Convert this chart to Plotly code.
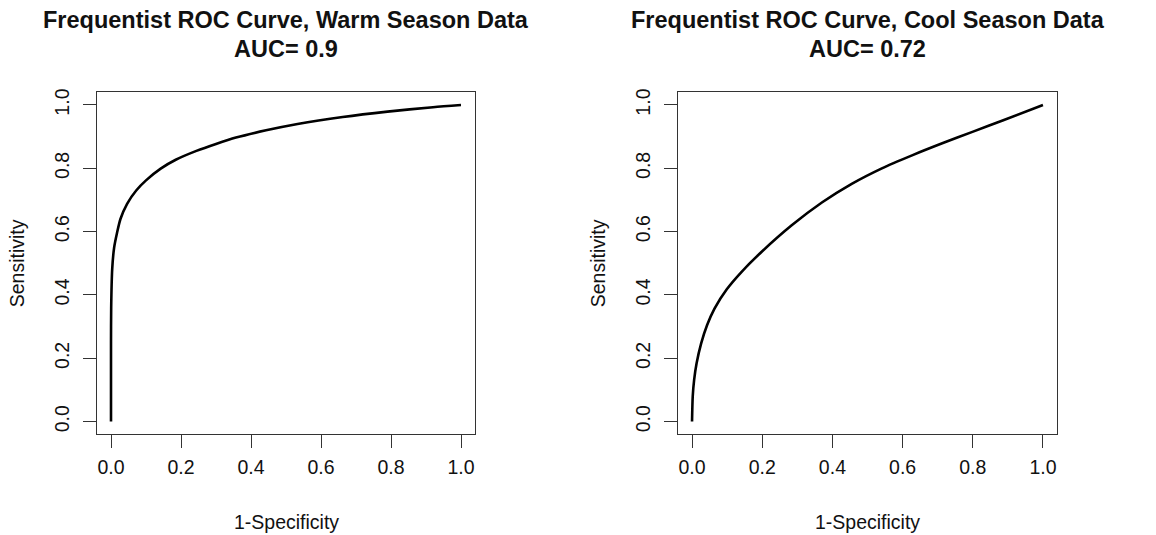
import plotly.graph_objects as go

# ---- data ----
warm_fpr = [0, 0, 0.0005, 0.0035, 0.009, 0.017, 0.027, 0.046, 0.072, 0.1, 0.142,
            0.185, 0.244, 0.3, 0.357, 0.443, 0.533, 0.662, 0.79, 0.92, 1.0]
warm_sens = [0, 0.25, 0.36, 0.483, 0.55, 0.595, 0.640, 0.688, 0.730, 0.762, 0.799,
             0.827, 0.855, 0.877, 0.897, 0.920, 0.940, 0.962, 0.979, 0.993, 1.0]

cool_fpr = [0, 0.002, 0.006, 0.013, 0.026, 0.043, 0.064, 0.099, 0.142, 0.2, 0.284,
            0.370, 0.455, 0.541, 0.627, 0.713, 0.799, 0.885, 1.0]
cool_sens = [0, 0.08, 0.132, 0.184, 0.247, 0.305, 0.357, 0.418, 0.474, 0.538, 0.620,
             0.692, 0.751, 0.800, 0.841, 0.879, 0.915, 0.951, 1.0]

tick_vals = [0, 0.2, 0.4, 0.6, 0.8, 1.0]
tick_text = ["0.0", "0.2", "0.4", "0.6", "0.8", "1.0"]

titles = [("Frequentist ROC Curve, Warm Season Data", "AUC= 0.9"),
          ("Frequentist ROC Curve, Cool Season Data", "AUC= 0.72")]
x_label = "1-Specificity"
y_label = "Sensitivity"

# ---- layout geometry (pixels) ----
W, H = 1156, 535
box_top, box_bot = 89.0, 433.5
panels = [(97.0, 475.0), (678.0, 1057.0)]

FONT = "Liberation Sans, Arial, Helvetica, sans-serif"
TXT = "#111111"
AX = "#333333"
BASE = 19.5
MAIN = 23.5

fig = go.Figure()
fig.add_trace(go.Scatter(x=warm_fpr, y=warm_sens, mode="lines",
                         line=dict(color="black", width=2.6, shape="spline", smoothing=0.7),
                         xaxis="x", yaxis="y", showlegend=False, hoverinfo="skip"))
fig.add_trace(go.Scatter(x=cool_fpr, y=cool_sens, mode="lines",
                         line=dict(color="black", width=2.6, shape="spline", smoothing=0.7),
                         xaxis="x2", yaxis="y2", showlegend=False, hoverinfo="skip"))

ydom = [(H - box_bot) / H, (H - box_top) / H]

def xax(dom, anchor):
    return dict(domain=dom, anchor=anchor, range=[-0.04, 1.04], tickmode="array",
                tickvals=tick_vals, ticktext=tick_text, ticks="outside", ticklen=13,
                tickwidth=1.1, tickcolor=AX, showline=True, linecolor=AX, linewidth=1.1,
                mirror=True, showgrid=False, zeroline=False, fixedrange=True,
                tickfont=dict(family=FONT, size=BASE, color=TXT),
                ticklabelstandoff=2)

def yax(anchor):
    return dict(domain=ydom, anchor=anchor, range=[-0.04, 1.04], tickmode="array",
                tickvals=tick_vals, ticktext=tick_text, ticks="outside", ticklen=13,
                tickwidth=1.1, tickcolor=AX, showline=True, linecolor=AX, linewidth=1.1,
                mirror=True, showgrid=False, zeroline=False, fixedrange=True,
                tickangle=-90,
                tickfont=dict(family=FONT, size=BASE, color=TXT),
                ticklabelstandoff=6)

annotations = []
for i, (l, r) in enumerate(panels):
    cx = (l + r) / 2 / W
    annotations.append(dict(text=f"<b>{titles[i][0]}</b>", x=cx, y=(H - 16) / H,
                            xref="paper", yref="paper", showarrow=False,
                            xanchor="center", yanchor="middle",
                            font=dict(family=FONT, size=MAIN, color=TXT)))
    annotations.append(dict(text=f"<b>{titles[i][1]}</b>", x=cx, y=(H - 45) / H,
                            xref="paper", yref="paper", showarrow=False,
                            xanchor="center", yanchor="middle",
                            font=dict(family=FONT, size=MAIN, color=TXT)))
    annotations.append(dict(text=x_label, x=cx, y=(H - 522) / H,
                            xref="paper", yref="paper", showarrow=False,
                            xanchor="center", yanchor="middle",
                            font=dict(family=FONT, size=BASE, color=TXT)))
    annotations.append(dict(text=y_label, x=(l - 80) / W,
                            y=(H - (box_top + box_bot) / 2) / H,
                            xref="paper", yref="paper", showarrow=False, textangle=-90,
                            xanchor="center", yanchor="middle",
                            font=dict(family=FONT, size=BASE, color=TXT)))

fig.update_layout(
    width=W, height=H, autosize=False,
    margin=dict(l=0, r=0, t=0, b=0),
    paper_bgcolor="white", plot_bgcolor="white",
    xaxis=xax([panels[0][0] / W, panels[0][1] / W], "y"),
    yaxis=yax("x"),
    xaxis2=xax([panels[1][0] / W, panels[1][1] / W], "y2"),
    yaxis2=yax("x2"),
    annotations=annotations,
    showlegend=False,
)

fig.write_html("out.html", config={"displayModeBar": False},
               post_script="document.body.style.margin='0px';document.body.style.overflow='hidden';")
